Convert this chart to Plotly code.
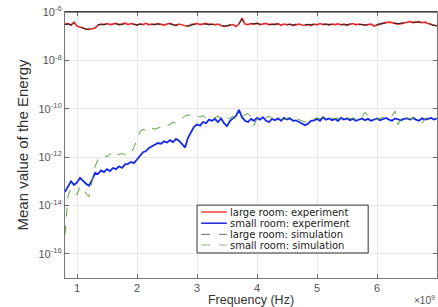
import numpy as np
import plotly.graph_objects as go

# Frequency in units of 10^9 Hz
freq = [
    0.80, 0.85, 0.90, 0.95, 1.00, 1.05, 1.10, 1.15, 1.20, 1.25,
    1.30, 1.35, 1.40, 1.45, 1.50, 1.55, 1.60, 1.65, 1.70, 1.75,
    1.80, 1.85, 1.90, 1.95, 2.00, 2.05, 2.10, 2.15, 2.20, 2.25,
    2.30, 2.35, 2.40, 2.45, 2.50, 2.55, 2.60, 2.65, 2.70, 2.75,
    2.80, 2.85, 2.90, 2.95, 3.00, 3.05, 3.10, 3.15, 3.20, 3.25,
    3.30, 3.35, 3.40, 3.45, 3.50, 3.55, 3.60, 3.65, 3.70, 3.75,
    3.80, 3.85, 3.90, 3.95, 4.00, 4.05, 4.10, 4.15, 4.20, 4.25,
    4.30, 4.35, 4.40, 4.45, 4.50, 4.55, 4.60, 4.65, 4.70, 4.75,
    4.80, 4.85, 4.90, 4.95, 5.00, 5.05, 5.10, 5.15, 5.20, 5.25,
    5.30, 5.35, 5.40, 5.45, 5.50, 5.55, 5.60, 5.65, 5.70, 5.75,
    5.80, 5.85, 5.90, 5.95, 6.00, 6.05, 6.10, 6.15, 6.20, 6.25,
    6.30, 6.35, 6.40, 6.45, 6.50, 6.55, 6.60, 6.65, 6.70, 6.75,
    6.80, 6.85, 6.90, 6.95, 7.00,
]

# log10 of mean energy
large_exp_log10 = [
    -6.50, -6.48, -6.55, -6.42, -6.58, -6.62, -6.68, -6.70, -6.72, -6.68,
    -6.66, -6.55, -6.50, -6.52, -6.48, -6.52, -6.50, -6.47, -6.53, -6.50,
    -6.46, -6.52, -6.48, -6.50, -6.55, -6.49, -6.52, -6.47, -6.53, -6.50,
    -6.52, -6.48, -6.50, -6.54, -6.50, -6.47, -6.52, -6.56, -6.50, -6.53,
    -6.55, -6.60, -6.52, -6.50, -6.48, -6.52, -6.50, -6.47, -6.52, -6.50,
    -6.53, -6.50, -6.56, -6.60, -6.58, -6.55, -6.52, -6.60, -6.50, -6.25,
    -6.50, -6.52, -6.48, -6.50, -6.46, -6.52, -6.50, -6.47, -6.53, -6.50,
    -6.52, -6.48, -6.55, -6.50, -6.53, -6.50, -6.56, -6.52, -6.50, -6.54,
    -6.55, -6.52, -6.56, -6.50, -6.53, -6.48, -6.52, -6.50, -6.54, -6.50,
    -6.52, -6.49, -6.53, -6.50, -6.55, -6.51, -6.48, -6.53, -6.50, -6.52,
    -6.55, -6.52, -6.50, -6.58, -6.53, -6.50, -6.46, -6.44, -6.42, -6.44,
    -6.46, -6.50, -6.48, -6.44, -6.42, -6.40, -6.44, -6.42, -6.40, -6.44,
    -6.42, -6.48, -6.52, -6.55, -6.58,
]

small_exp_log10 = [
    -13.44, -13.20, -13.00, -13.15, -13.05, -12.86, -13.00, -13.10, -13.18, -12.95,
    -12.65, -12.70, -12.55, -12.62, -12.50, -12.58, -12.45, -12.50, -12.38, -12.45,
    -12.30, -12.28, -12.20, -12.25, -12.10, -11.95, -11.80, -11.75, -11.62, -11.55,
    -11.50, -11.42, -11.45, -11.35, -11.40, -11.30, -11.38, -11.25, -11.32, -11.45,
    -11.60, -11.20, -11.00, -10.75, -10.65, -10.70, -10.55, -10.60, -10.45, -10.50,
    -10.42, -10.55, -10.40, -10.60, -10.72, -10.50, -10.40, -10.30, -10.05, -10.35,
    -10.50, -10.55, -10.42, -10.50, -10.38, -10.45, -10.35, -10.50, -10.55, -10.42,
    -10.48, -10.40, -10.50, -10.38, -10.45, -10.40, -10.50, -10.48, -10.55, -10.60,
    -10.68, -10.62, -10.50, -10.48, -10.42, -10.50, -10.35, -10.45, -10.40, -10.48,
    -10.42, -10.50, -10.38, -10.45, -10.40, -10.48, -10.42, -10.50, -10.45, -10.40,
    -10.48, -10.42, -10.50, -10.45, -10.40, -10.48, -10.42, -10.38, -10.45, -10.50,
    -10.40, -10.45, -10.48, -10.42, -10.40, -10.45, -10.38, -10.45, -10.50, -10.40,
    -10.45, -10.42, -10.38, -10.45, -10.40,
]

large_sim_log10 = [
    -6.52, -6.50, -6.52, -6.45, -6.55, -6.60, -6.66, -6.72, -6.70, -6.66,
    -6.62, -6.53, -6.52, -6.50, -6.50, -6.50, -6.52, -6.49, -6.51, -6.52,
    -6.48, -6.50, -6.50, -6.52, -6.53, -6.51, -6.50, -6.49, -6.51, -6.52,
    -6.50, -6.50, -6.52, -6.52, -6.48, -6.49, -6.54, -6.54, -6.52, -6.51,
    -6.53, -6.58, -6.54, -6.52, -6.50, -6.50, -6.52, -6.49, -6.50, -6.52,
    -6.51, -6.52, -6.54, -6.58, -6.56, -6.53, -6.54, -6.58, -6.48, -6.30,
    -6.52, -6.50, -6.50, -6.48, -6.48, -6.50, -6.52, -6.49, -6.51, -6.52,
    -6.50, -6.50, -6.53, -6.52, -6.51, -6.52, -6.54, -6.50, -6.52, -6.52,
    -6.53, -6.54, -6.54, -6.52, -6.51, -6.50, -6.50, -6.52, -6.52, -6.52,
    -6.50, -6.51, -6.51, -6.52, -6.53, -6.49, -6.50, -6.51, -6.52, -6.50,
    -6.53, -6.54, -6.52, -6.56, -6.51, -6.48, -6.48, -6.46, -6.44, -6.46,
    -6.48, -6.48, -6.46, -6.46, -6.44, -6.42, -6.42, -6.44, -6.42, -6.46,
    -6.44, -6.46, -6.50, -6.56, -6.56,
]

small_sim_log10 = [
    -15.20, -13.60, -13.30, -13.45, -13.56, -13.20, -13.35, -13.50, -13.64, -13.00,
    -12.40, -12.10, -12.05, -11.90, -12.00, -11.85, -11.95, -11.80, -11.90, -11.85,
    -11.90, -11.80, -11.85, -11.60, -11.30, -10.95, -10.85, -10.90, -10.75, -10.80,
    -10.85, -10.80, -10.75, -10.82, -10.70, -10.65, -10.55, -10.60, -10.45, -10.40,
    -10.30, -10.25, -10.28, -10.22, -10.30, -10.35, -10.28, -10.40, -10.35, -10.30,
    -10.38, -10.30, -10.42, -10.35, -10.45, -10.40, -10.32, -10.45, -10.38, -10.30,
    -10.25, -10.20, -10.35, -10.70, -10.40, -10.35, -10.42, -10.38, -10.30, -10.40,
    -10.35, -10.42, -10.38, -10.45, -10.40, -10.35, -10.42, -10.40, -10.45, -10.50,
    -10.55, -10.50, -10.45, -10.40, -10.38, -10.42, -10.35, -10.40, -10.45, -10.38,
    -10.42, -10.38, -10.45, -10.40, -10.35, -10.42, -10.38, -10.45, -10.30, -10.35,
    -10.15, -10.30, -10.40, -10.38, -10.45, -10.40, -10.35, -10.42, -10.38, -10.30,
    -10.10, -10.65, -10.40, -10.55, -10.38, -10.42, -10.40, -10.35, -10.45, -10.60,
    -10.40, -10.38, -10.45, -10.40, -10.42,
]

series_names = [
    "large room: experiment",
    "small room: experiment",
    "large room: simulation",
    "small room: simulation",
]
x_ticks = [1, 2, 3, 4, 5, 6, 7]
y_tick_exponents = [-16, -14, -12, -10, -8, -6]

FONT = "Liberation Sans, Arial, sans-serif"
LEG_FONT = "DejaVu Sans, Liberation Sans, sans-serif"

series_logs = [large_exp_log10, small_exp_log10, large_sim_log10, small_sim_log10]
series_lines = [
    dict(color="rgb(230,40,40)", width=1.6),
    dict(color="rgb(20,40,235)", width=1.8),
    dict(color="rgb(40,40,40)", width=1, dash="dash"),
    dict(color="rgb(90,160,60)", width=1, dash="dash"),
]
legend_lines = [
    dict(color="rgb(235,70,60)", width=1.5),
    dict(color="rgb(30,40,220)", width=1.5),
    dict(color="rgb(110,110,110)", width=1, dash="dash"),
    dict(color="rgb(150,175,140)", width=1, dash="dash"),
]

fig = go.Figure()
for name, logs, ln in zip(series_names, series_logs, series_lines):
    fig.add_trace(go.Scatter(x=freq, y=np.power(10.0, np.array(logs)), mode="lines",
                             name=name, line=ln, showlegend=False))

fig.update_layout(
    width=438, height=307,
    margin=dict(l=65, r=1, t=12, b=29),
    paper_bgcolor="white", plot_bgcolor="white",
    font=dict(family=FONT, size=11, color="#333"),
    showlegend=False,
)
fig.update_xaxes(
    range=[0.8, 7.0], tickvals=x_ticks, ticktext=[str(v) for v in x_ticks],
    ticks="inside", ticklen=4, tickcolor="#666",
    showgrid=True, gridcolor="#e8e8e8", gridwidth=1,
    showline=True, linecolor="#777", linewidth=1, mirror="ticks",
    zeroline=False, automargin=False,
    tickfont=dict(family=FONT, size=11, color="#555"),
    title=dict(text="Frequency (Hz)", font=dict(family=FONT, size=12.5, color="#333"), standoff=3),
)
fig.update_yaxes(
    type="log", range=[-17, -6],
    tickvals=[10.0 ** e for e in y_tick_exponents],
    ticktext=["10<sup>%d</sup>" % e for e in y_tick_exponents],
    ticks="inside", ticklen=4, tickcolor="#666",
    showgrid=True, gridcolor="#e8e8e8", gridwidth=1,
    showline=True, linecolor="#777", linewidth=1, mirror="ticks",
    zeroline=False, automargin=False,
    tickfont=dict(family=FONT, size=11, color="#555"),
    title=dict(text="Mean value of the Energy", font=dict(family=FONT, size=15, color="#333"), standoff=6),
)
# top frame line (darker, as in the reference)
fig.add_shape(type="line", xref="paper", yref="paper", x0=0, x1=1, y0=1, y1=1,
              line=dict(color="#111", width=1))
fig.add_annotation(xref="paper", yref="paper", x=1.0, y=-0.083,
                   xanchor="right", yanchor="middle", showarrow=False,
                   text="×10<sup>9</sup>",
                   font=dict(family=FONT, size=10, color="#555"))

# custom compact legend box
fig.add_shape(type="rect", xref="paper", yref="paper",
              x0=0.355, x1=0.815, y0=0.094, y1=0.274,
              fillcolor="white", line=dict(color="#333", width=1), layer="above")
row_y = [0.248, 0.206, 0.164, 0.124]
for name, ln, yy in zip(series_names, legend_lines, row_y):
    fig.add_shape(type="line", xref="paper", yref="paper",
                  x0=0.366, x1=0.435, y0=yy, y1=yy, line=ln, layer="above")
    fig.add_annotation(xref="paper", yref="paper", x=0.438, y=yy,
                       xanchor="left", yanchor="middle", showarrow=False,
                       text=name, font=dict(family=LEG_FONT, size=10, color="#222"))

fig.write_html("out.html", config={"displayModeBar": False},
               post_script="document.body.style.margin='0';document.body.style.padding='0';")
